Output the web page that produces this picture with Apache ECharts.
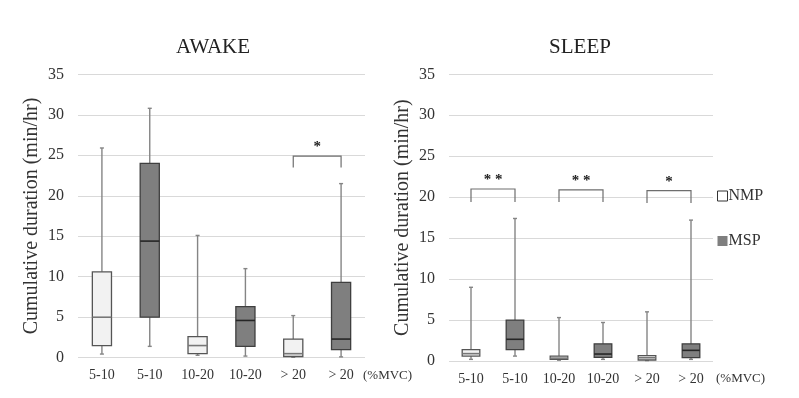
<!DOCTYPE html>
<html>
<head>
<meta charset="utf-8">
<script src="https://cdn.jsdelivr.net/npm/echarts@6/dist/echarts.min.js"></script>
<style>
  html, body { margin: 0; padding: 0; background: #fff; }
  #chart { width: 799px; height: 398px; }
</style>
</head>
<body>
<div id="chart"></div>
<script>
// x categories are shared by both panels, NMP/MSP alternate
const categories = ["5-10", "5-10", "10-20", "10-20", "> 20", "> 20"];
const yTicks = { min: 0, max: 35, interval: 5 };

// box stats: [min, Q1, median, Q3, max]
const awakeNMP = [[0.45, 1.5, 5.0, 10.6, 25.9], [0.3, 0.5, 1.5, 2.6, 15.1], [0.05, 0.15, 0.5, 2.3, 5.2]];
const awakeMSP = [[1.4, 5.0, 14.4, 24.0, 30.8], [0.2, 1.4, 4.6, 6.3, 11.0], [0.1, 1.0, 2.3, 9.3, 21.5]];
const sleepNMP = [[0.2, 0.6, 0.9, 1.4, 9.0], [0.1, 0.2, 0.35, 0.6, 5.3], [0.05, 0.12, 0.4, 0.65, 6.0]];
const sleepMSP = [[0.6, 1.4, 2.65, 5.0, 17.4], [0.2, 0.45, 0.85, 2.1, 4.7], [0.2, 0.4, 1.3, 2.1, 17.2]];

// significance brackets: [fromIdx, toIdx, top, legEnd, mark]
const awakeSig = [[4, 5, 24.9, 23.5, "*"]];
const sleepSig = [[0, 1, 21.0, 19.4, "* *"], [2, 3, 20.9, 19.4, "* *"], [4, 5, 20.8, 19.3, "*"]];

const SERIF = "Liberation Serif";
const STYLE = {
  NMP: { fill: "#f2f2f2", stroke: "#555", median: "#777" },
  MSP: { fill: "#7f7f7f", stroke: "#3f3f3f", median: "#262626" }
};

// put NMP at even slots, MSP at odd slots
const toRows = (stats, offset) => stats.map((s, i) => [i * 2 + offset, ...s]);

function boxItem(group) {
  const st = STYLE[group];
  return (params, api) => {
    const x = api.value(0);
    const lo = api.coord([x, api.value(1)]);
    const q1 = api.coord([x, api.value(2)]);
    const med = api.coord([x, api.value(3)]);
    const q3 = api.coord([x, api.value(4)]);
    const hi = api.coord([x, api.value(5)]);
    const w = api.size([1, 0])[0] * 0.4;
    const cx = lo[0];
    const wl = { stroke: "#858585", lineWidth: 1.4 };
    return {
      type: "group",
      children: [
        { type: "line", shape: { x1: cx, y1: hi[1], x2: cx, y2: lo[1] }, style: wl },
        { type: "line", shape: { x1: cx - 2, y1: hi[1], x2: cx + 2, y2: hi[1] }, style: wl },
        { type: "line", shape: { x1: cx - 2, y1: lo[1], x2: cx + 2, y2: lo[1] }, style: wl },
        { type: "rect", shape: { x: cx - w / 2, y: q3[1], width: w, height: q1[1] - q3[1] },
          style: { fill: st.fill, stroke: st.stroke, lineWidth: 1.3 } },
        { type: "line", shape: { x1: cx - w / 2, y1: med[1], x2: cx + w / 2, y2: med[1] },
          style: { stroke: st.median, lineWidth: 1.6 } }
      ]
    };
  };
}

const sigMarks = { awakeSig: awakeSig.map((d) => d[4]), sleepSig: sleepSig.map((d) => d[4]) };
function sigItem(params, api) {
  const a = api.coord([api.value(0), api.value(2)]);
  const b = api.coord([api.value(1), api.value(2)]);
  const end = api.coord([api.value(0), api.value(3)]);
  const ls = { stroke: "#6e6e6e", lineWidth: 1.2 };
  return {
    type: "group",
    children: [
      { type: "polyline", shape: { points: [[a[0], end[1]], a, b, [b[0], end[1]]] }, style: { ...ls, fill: null } },
      { type: "text", style: { text: sigMarks[params.seriesName][params.dataIndex], x: (a[0] + b[0]) / 2, y: a[1] - 1,
        align: "center", verticalAlign: "bottom", font: "bold 15px '" + SERIF + "'", fill: "#222" } }
    ]
  };
}

const xAxisBase = {
  type: "category",
  data: categories,
  boundaryGap: true,
  axisLine: { show: false },
  axisTick: { show: false },
  axisLabel: { color: "#333", fontFamily: SERIF, fontSize: 14, margin: 11, interval: 0 },
  name: "(%MVC)",
  nameLocation: "end",
  nameTextStyle: { color: "#333", fontFamily: SERIF, fontSize: 13, verticalAlign: "top", padding: [11, 0, 0, 0] }
};
const yAxisBase = {
  type: "value",
  ...yTicks,
  axisLine: { show: false },
  axisTick: { show: false },
  splitLine: { lineStyle: { color: "#d9d9d9", width: 1.2 } },
  axisLabel: { color: "#333", fontFamily: SERIF, fontSize: 16, margin: 14 },
  name: "Cumulative duration (min/hr)",
  nameLocation: "middle",
  nameGap: 36,
  nameTextStyle: { color: "#333", fontFamily: SERIF, fontSize: 20 }
};

const chart = echarts.init(document.getElementById("chart"), null, { renderer: "canvas" });
chart.setOption({
  animation: false,
  backgroundColor: "#fff",
  title: [
    { text: "AWAKE", left: 208, top: 32, textAlign: "center",
      textStyle: { fontFamily: SERIF, fontSize: 21, fontWeight: "normal", color: "#222" } },
    { text: "SLEEP", left: 575, top: 32, textAlign: "center",
      textStyle: { fontFamily: SERIF, fontSize: 21, fontWeight: "normal", color: "#222" } }
  ],
  legend: {
    orient: "vertical",
    left: 712,
    top: 183,
    itemWidth: 10,
    itemHeight: 10,
    itemGap: 29,
    icon: "rect",
    textStyle: { fontFamily: SERIF, fontSize: 16, color: "#333", padding: [0, 0, 0, -4] },
    data: [
      { name: "NMP", itemStyle: { color: "#fff", borderColor: "#333", borderWidth: 1 } },
      { name: "MSP", itemStyle: { color: "#7f7f7f", borderColor: "#7f7f7f", borderWidth: 0 } }
    ]
  },
  grid: [
    { left: 78, right: 434, top: 74.3, bottom: 40.3 },
    { left: 449, right: 86, top: 74.3, bottom: 37 }
  ],
  xAxis: [
    { ...xAxisBase, gridIndex: 0, nameGap: -2 },
    { ...xAxisBase, gridIndex: 1, nameGap: 3 }
  ],
  yAxis: [
    { ...yAxisBase, gridIndex: 0 },
    { ...yAxisBase, gridIndex: 1 }
  ],
  series: [
    { name: "NMP", type: "custom", xAxisIndex: 0, yAxisIndex: 0, renderItem: boxItem("NMP"),
      itemStyle: { color: "#fff", borderColor: "#333" }, encode: { x: 0, y: [1, 2, 3, 4, 5] }, data: toRows(awakeNMP, 0) },
    { name: "MSP", type: "custom", xAxisIndex: 0, yAxisIndex: 0, renderItem: boxItem("MSP"),
      itemStyle: { color: "#7f7f7f" }, encode: { x: 0, y: [1, 2, 3, 4, 5] }, data: toRows(awakeMSP, 1) },
    { name: "NMP", type: "custom", xAxisIndex: 1, yAxisIndex: 1, renderItem: boxItem("NMP"),
      itemStyle: { color: "#fff", borderColor: "#333" }, encode: { x: 0, y: [1, 2, 3, 4, 5] }, data: toRows(sleepNMP, 0) },
    { name: "MSP", type: "custom", xAxisIndex: 1, yAxisIndex: 1, renderItem: boxItem("MSP"),
      itemStyle: { color: "#7f7f7f" }, encode: { x: 0, y: [1, 2, 3, 4, 5] }, data: toRows(sleepMSP, 1) },
    { name: "awakeSig", type: "custom", xAxisIndex: 0, yAxisIndex: 0, renderItem: sigItem,
      encode: { x: [0, 1], y: [2, 3] }, data: awakeSig.map((d) => d.slice(0, 4)) },
    { name: "sleepSig", type: "custom", xAxisIndex: 1, yAxisIndex: 1, renderItem: sigItem,
      encode: { x: [0, 1], y: [2, 3] }, data: sleepSig.map((d) => d.slice(0, 4)) }
  ]
});
</script>
</body>
</html>
